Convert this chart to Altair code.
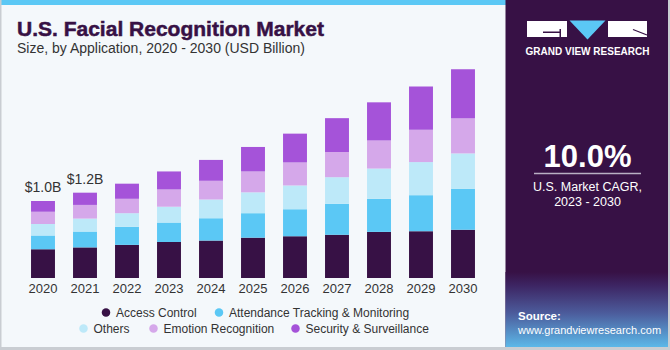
import altair as alt
import pandas as pd

# ---------------- data ----------------
years = [str(y) for y in range(2020, 2031)]
series = ["Access Control", "Attendance Tracking & Monitoring", "Others",
          "Emotion Recognition", "Security & Surveillance"]
colors = ["#371145", "#5BC8F5", "#BDE9F9", "#D5A8EA", "#A553D9"]

access_control = [0.40, 0.425, 0.46, 0.50, 0.52, 0.56, 0.58, 0.60, 0.64, 0.65, 0.67]
attendance     = [0.19, 0.22, 0.25, 0.27, 0.31, 0.34, 0.375, 0.43, 0.46, 0.50, 0.57]
others         = [0.16, 0.18, 0.19, 0.22, 0.26, 0.29, 0.33, 0.37, 0.42, 0.46, 0.49]
emotion        = [0.17, 0.19, 0.20, 0.24, 0.26, 0.29, 0.32, 0.35, 0.39, 0.45, 0.49]
security       = [0.15, 0.17, 0.21, 0.25, 0.29, 0.34, 0.40, 0.47, 0.53, 0.60, 0.68]
total_labels   = ["$1.0B", "$1.2B", "", "", "", "", "", "", "", "", ""]

values_by_series = [access_control, attendance, others, emotion, security]

rows = []
for si, (name, vals) in enumerate(zip(series, values_by_series)):
    for y, v in zip(years, vals):
        rows.append({"year": y, "series": name, "value": v, "idx": si})
df = pd.DataFrame(rows)

totals = pd.DataFrame({
    "year": years,
    "total": [sum(v[i] for v in values_by_series) for i in range(len(years))],
    "label": total_labels,
})
totals = totals[totals["label"] != ""]

# ---------------- layout ----------------
L, T = 22, 62          # plot origin on the canvas
W, H = 462, 216
FONT = "Liberation Sans"
dummy = alt.Data(values=[{"a": 1}])


def rect(x1, y1, x2, y2, color, **kw):
    return alt.Chart(dummy).mark_rect(color=color, **kw).encode(
        x=alt.value(x1 - L), x2=alt.value(x2 - L),
        y=alt.value(y1 - T), y2=alt.value(y2 - T))


def text(s, x, y, size, color="#333333", weight="normal", align="left",
         baseline="alphabetic", **kw):
    return alt.Chart(dummy).mark_text(
        text=s, font=FONT, fontSize=size, fontWeight=weight, color=color,
        align=align, baseline=baseline, **kw).encode(
        x=alt.value(x - L), y=alt.value(y - T))


def rule(x1, y1, x2, y2, color, width=1.0):
    return alt.Chart(dummy).mark_rule(color=color, strokeWidth=width).encode(
        x=alt.value(x1 - L), x2=alt.value(x2 - L),
        y=alt.value(y1 - T), y2=alt.value(y2 - T))


layers = []

# frame / header strip
layers.append(rect(0, 0, 506, 5, "#5BC8F5"))
layers.append(rect(0, 0, 1.5, 350, "#C9CDD2"))
layers.append(rect(0, 347, 670, 350, "#C9CDD2"))
layers.append(rect(668, 0, 670, 350, "#C9CDD2"))

# right panel
layers.append(rect(505.5, 0, 668, 347, "#371145"))
layers.append(alt.Chart(dummy).mark_rect(color={
    "gradient": "linear", "x1": 0, "y1": 0, "x2": 0, "y2": 1,
    "stops": [{"offset": 0, "color": "#371145"},
              {"offset": 0.18, "color": "#3D2563"},
              {"offset": 0.55, "color": "#4C5C9C"},
              {"offset": 1, "color": "#5CB8E8"}]}).encode(
    x=alt.value(505.5 - L), x2=alt.value(668 - L),
    y=alt.value(272 - T), y2=alt.value(347 - T)))

# logo
layers.append(rect(527, 21, 567, 37, "white"))
layers.append(rect(543, 31.5, 561, 33, "#371145"))
layers.append(rect(559.5, 29, 561, 37, "#371145"))
layers.append(rect(608, 21, 647, 37, "white"))
layers.append(rule(633, 29.5, 647, 35, "#371145", 1.3))
layers.append(alt.Chart(dummy).mark_point(
    shape="M-1,-0.53L1,-0.53L0,0.53Z", filled=True, color="#5BC8F5",
    size=1296, opacity=1).encode(x=alt.value(587.5 - L), y=alt.value(30 - T)))
layers.append(text("GRAND VIEW RESEARCH", 587.5, 54.5, 10, "white", "bold",
                   align="center"))

# CAGR
layers.append(text("10.0%", 587.5, 166.5, 31, "white", "bold", align="center"))
layers.append(rule(534, 173.5, 641, 173.5, "#B9AFC4", 1.5))
layers.append(text("U.S. Market CAGR,", 587.5, 191, 12.5, "white", align="center"))
layers.append(text("2023 - 2030", 587.5, 205.5, 12.5, "white", align="center"))

# source
layers.append(text("Source:", 518, 319.5, 11.5, "white", "bold"))
layers.append(text("www.grandviewresearch.com", 518, 334, 11, "white"))

# titles
layers.append(text("U.S. Facial Recognition Market", 17, 36, 21, "#371145", "bold",
                   stroke="#371145", strokeWidth=0.5))
layers.append(text("Size, by Application, 2020 - 2030 (USD Billion)", 17, 53, 14,
                   "#333333"))

# bars
bars = alt.Chart(df).mark_bar().encode(
    x=alt.X("year:N", sort=years, title=None,
            scale=alt.Scale(paddingInner=0.43, paddingOuter=0.215),
            axis=alt.Axis(labelAngle=0, labelFontSize=13, labelColor="#333333",
                          labelFont=FONT, ticks=False, domain=False,
                          labelPadding=4, grid=False)),
    y=alt.Y("value:Q", stack="zero", scale=alt.Scale(domain=[0, 3.0]), axis=None),
    color=alt.Color("series:N", scale=alt.Scale(domain=series, range=colors),
                    legend=None),
    order=alt.Order("idx:Q", sort="ascending"),
)
layers.append(bars)

labels = alt.Chart(totals).mark_text(
    font=FONT, fontSize=14, color="#333333", baseline="alphabetic", dy=-9).encode(
    x=alt.X("year:N", sort=years),
    y=alt.Y("total:Q"),
    text="label:N",
)
layers.append(labels)

# legend (manual, two centred rows)
legend_pos = [(106, 312.5), (219, 312.5), (83.5, 328.5), (153.5, 328.5), (295.5, 328.5)]
for name, col, (lx, ly) in zip(series, colors, legend_pos):
    layers.append(alt.Chart(dummy).mark_circle(color=col, size=72, opacity=1).encode(
        x=alt.value(lx - L), y=alt.value(ly - T)))
    layers.append(text(name, lx + 10, ly, 12, "#333333", baseline="middle"))

chart = alt.layer(*layers).properties(
    width=W, height=H,
    padding={"left": L, "top": T, "right": 670 - L - W, "bottom": 350 - T - H},
    autosize=alt.AutoSizeParams(type="none"),
    background="#F4F8FB",
).configure_view(stroke=None)

chart.save("out.html", embed_options={"renderer": "svg", "actions": False})
